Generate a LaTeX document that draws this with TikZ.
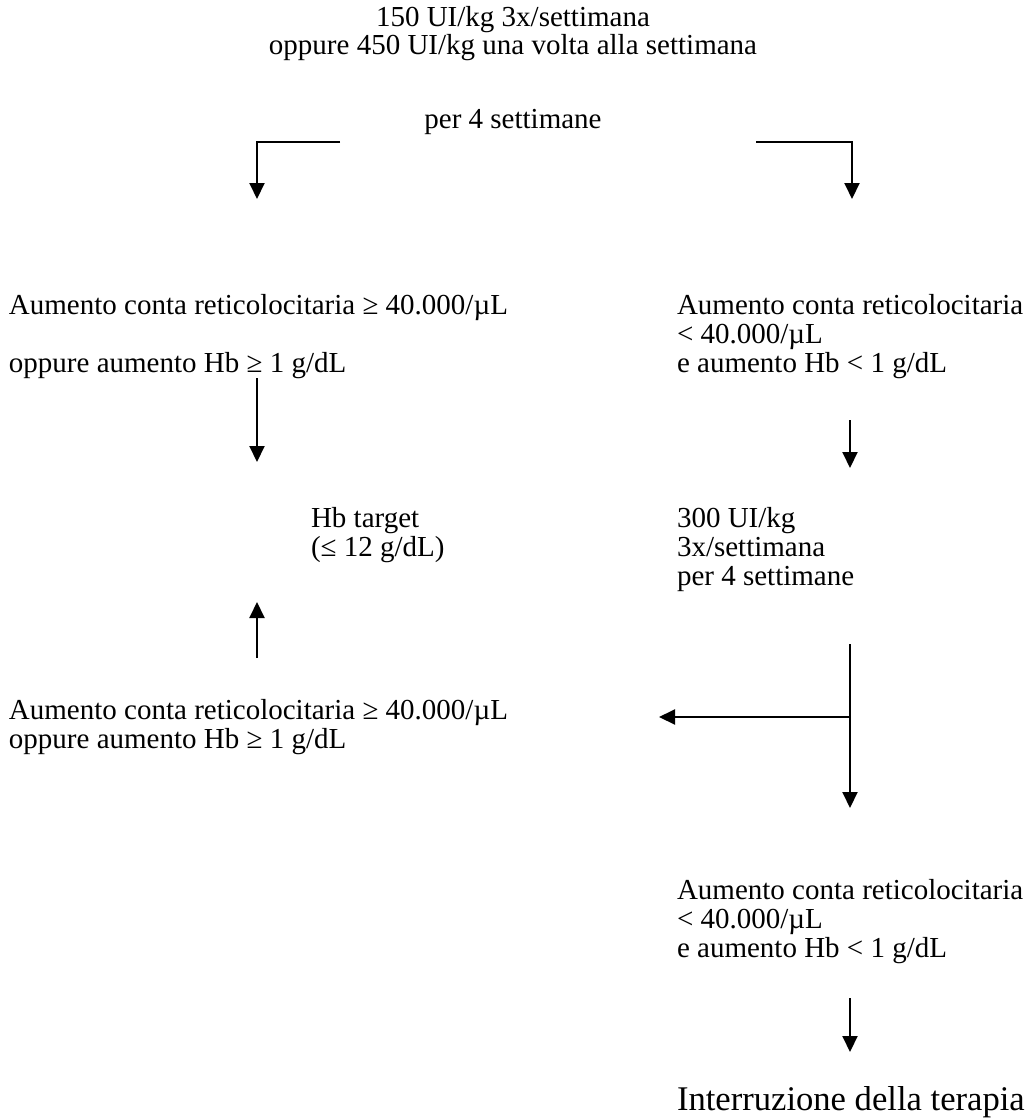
\documentclass[tikz,border=0pt]{standalone}
\usepackage{fontspec}
\setmainfont{Liberation Serif}
\usetikzlibrary{arrows.meta}

\begin{document}
\begin{tikzpicture}[
            x=0.5pt, y=-0.5pt, % one unit = one pixel of the scan
            -{Triangle[length=8pt, width=7.5pt]}, % arrow head style
            line width=1pt, % line style
            every node/.style={inner sep=0pt, align=left,
            font=\fontsize{14.5}{14.5}\selectfont}
            ]
            \useasboundingbox (0,0) rectangle (1027,1119);

            \node[anchor=north, align=center,
            font=\fontsize{14.5}{12.5}\selectfont] (1) at (513,5)
            {150 UI/kg 3x/settimana\\oppure 450 UI/kg una volta alla settimana};
            \node[anchor=north] (2) at (513,108) {per 4 settimane};

            \node[anchor=north west] (3) at (8,293)
            {Aumento conta reticolocitaria ≥ 40.000/µL\\[14.5pt]oppure aumento Hb ≥ 1 g/dL};
            \node[anchor=north west] (4) at (676,293)
            {Aumento conta reticolocitaria\\< 40.000/µL\\e aumento Hb < 1 g/dL};

            \node[anchor=north west] (5) at (310,506) {Hb target\\(≤ 12 g/dL)};
            \node[anchor=north west] (6) at (676,506)
            {300 UI/kg\\3x/settimana\\per 4 settimane};

            \node[anchor=north west] (7) at (8,698)
            {Aumento conta reticolocitaria ≥ 40.000/µL\\oppure aumento Hb ≥ 1 g/dL};
            \node[anchor=north west] (8) at (676,878)
            {Aumento conta reticolocitaria\\< 40.000/µL\\e aumento Hb < 1 g/dL};
            \node[anchor=north west, font=\fontsize{17.3}{17.3}\selectfont] (9)
            at (676,1085) {Interruzione della terapia};

            % arrow ends
            \coordinate (a1) at (340,142);
            \coordinate (a2) at (257,199);
            \coordinate (a3) at (756,142);
            \coordinate (a4) at (852,199);
            \coordinate (b1) at (257,378);
            \coordinate (b2) at (257,462);
            \coordinate (b3) at (850,420);
            \coordinate (b4) at (850,468);
            \coordinate (c1) at (257,658);
            \coordinate (c2) at (257,602);
            \coordinate (c3) at (850,644);
            \coordinate (c4) at (850,808);
            \coordinate (c5) at (850,717);
            \coordinate (c6) at (659,717);
            \coordinate (d1) at (850,998);
            \coordinate (d2) at (850,1052);

            \draw (a1) -| (a2);
            \draw (a3) -| (a4);
            \draw (b1) -- (b2);
            \draw (b3) -- (b4);
            \draw (c1) -- (c2);
            \draw (c3) -- (c4);
            \draw (c5) -- (c6);
            \draw (d1) -- (d2);
        \end{tikzpicture}
\end{document}
